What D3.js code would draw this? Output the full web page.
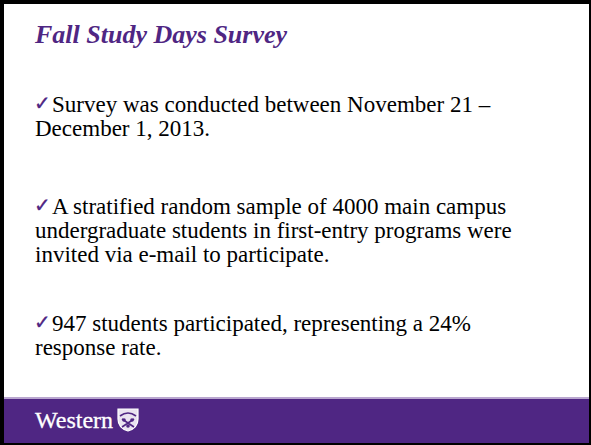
<!DOCTYPE html>
<html>
<head>
<meta charset="utf-8">
<script src="https://cdn.jsdelivr.net/npm/d3@7"></script>
<style>
  html, body { margin: 0; padding: 0; background: #fff; }
  svg { display: block; }
</style>
</head>
<body>
<div id="slide"></div>
<script>
// slide content
const title = "Fall Study Days Survey";
const bullets = [
  ["Survey was conducted between November 21 \u2013", "December 1, 2013."],
  ["A stratified random sample of 4000 main campus", "undergraduate students in first-entry programs were", "invited via e-mail to participate."],
  ["947 students participated, representing a 24%", "response rate."],
];
const bulletTops = [112, 214, 331];   // baseline of the first line of each bullet
const footerText = "Western";

const W = 591, H = 445;
const PURPLE = "#4f2683";
const LINE_H = 24;

const svg = d3.select("#slide").append("svg").attr("width", W).attr("height", H);

svg.append("rect").attr("width", W).attr("height", H).attr("fill", "#fff");

// footer band
svg.append("rect").attr("x", 0).attr("y", 397).attr("width", W).attr("height", 2).attr("fill", "#b9a6cf");
svg.append("rect").attr("x", 0).attr("y", 399).attr("width", W).attr("height", 44).attr("fill", PURPLE);

// slide border
svg.append("rect").attr("x", 0).attr("y", 0).attr("width", W).attr("height", 4).attr("fill", "#000");
svg.append("rect").attr("x", 0).attr("y", 0).attr("width", 4).attr("height", H).attr("fill", "#000");
svg.append("rect").attr("x", W - 2).attr("y", 0).attr("width", 2).attr("height", H).attr("fill", "#000");
svg.append("rect").attr("x", 0).attr("y", H - 2).attr("width", W).attr("height", 2).attr("fill", "#000");

// title
svg.append("text")
  .attr("x", 35)
  .attr("y", 43)
  .attr("font-family", "'Liberation Serif', 'Times New Roman', serif")
  .attr("font-size", 26)
  .attr("font-weight", "bold")
  .attr("font-style", "italic")
  .attr("fill", PURPLE)
  .text(title);

// bullets
const groups = svg.selectAll("g.bullet")
  .data(bullets)
  .enter()
  .append("g")
  .attr("class", "bullet")
  .attr("transform", (d, i) => `translate(0,${bulletTops[i]})`);

groups.append("text")
  .attr("x", 34)
  .attr("y", -2)
  .attr("font-family", "'DejaVu Sans', sans-serif")
  .attr("font-size", 20)
  .attr("fill", PURPLE)
  .attr("stroke", PURPLE)
  .attr("stroke-width", 0.3)
  .text("\u2713");

groups.selectAll("text.line")
  .data((d) => d)
  .enter()
  .append("text")
  .attr("class", "line")
  .attr("x", (d, j) => (j === 0 ? 52 : 35))
  .attr("y", (d, j) => j * LINE_H)
  .attr("font-family", "'Liberation Serif', 'Times New Roman', serif")
  .attr("font-size", 23)
  .attr("fill", "#000")
  .text((d) => d);

// footer wordmark
svg.append("text")
  .attr("x", 35)
  .attr("y", 428)
  .attr("font-family", "'Liberation Serif', 'Times New Roman', serif")
  .attr("font-size", 24)
  .attr("fill", "#fff")
  .attr("stroke", "#fff")
  .attr("stroke-width", 0.3)
  .text(footerText);

// little shield
const shield = svg.append("g").attr("transform", "translate(118,409)");
shield.append("path")
  .attr("d", "M0,0 L20,0 L20,10 Q20,19 10,22 Q0,19 0,10 Z")
  .attr("fill", "#e9e3f0")
  .attr("stroke", "#fff")
  .attr("stroke-width", 1.2);
shield.append("path")
  .attr("d", "M2,7 Q10,1 18,7")
  .attr("fill", "none")
  .attr("stroke", PURPLE)
  .attr("stroke-width", 1.6);
shield.append("path")
  .attr("d", "M4,10 L16,18 M16,10 L4,18")
  .attr("stroke", PURPLE)
  .attr("stroke-width", 1.6);
shield.selectAll("circle")
  .data([[6, 11], [14, 11], [10, 17]])
  .enter()
  .append("circle")
  .attr("cx", (d) => d[0])
  .attr("cy", (d) => d[1])
  .attr("r", 1.8)
  .attr("fill", PURPLE);
</script>
</body>
</html>
